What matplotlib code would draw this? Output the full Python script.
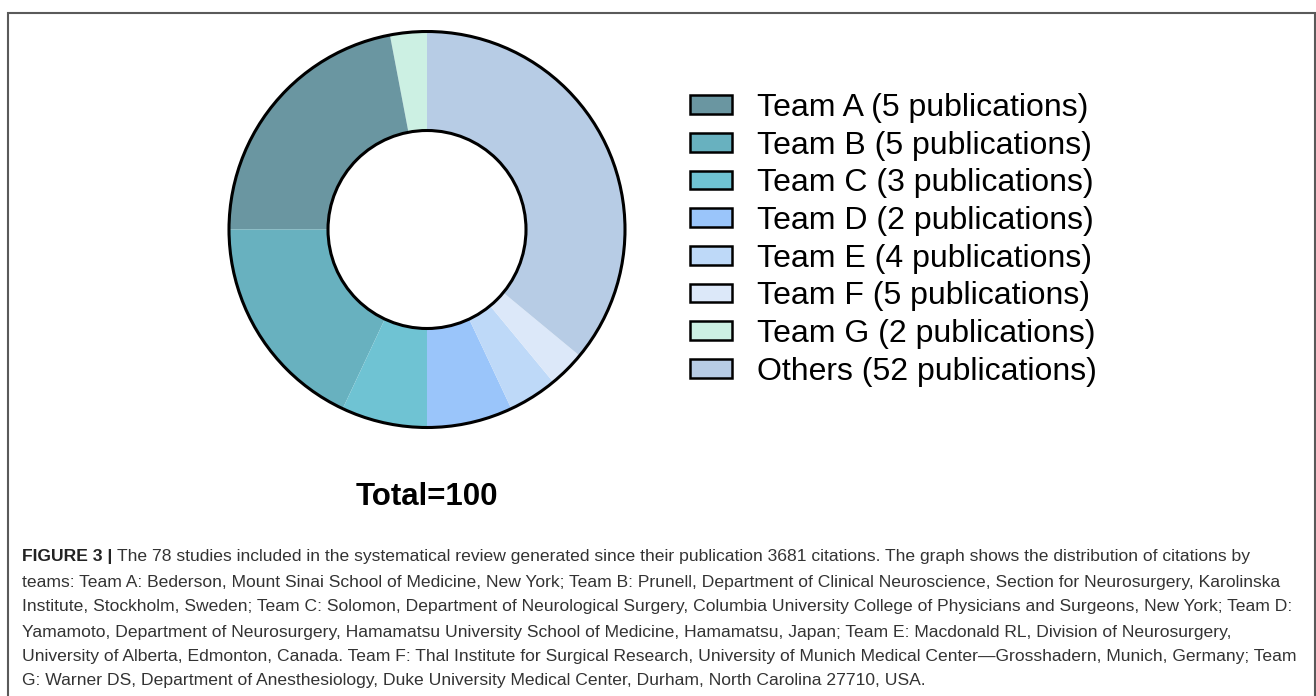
import matplotlib.pyplot as plt
from matplotlib.patches import Circle, Rectangle, Patch

plt.rcParams['font.family'] = ['Liberation Sans', 'DejaVu Sans']

# Share of citations per team (percent of the ring), legend order
teams = ['Team A', 'Team B', 'Team C', 'Team D', 'Team E', 'Team F', 'Team G', 'Others']
publications = [5, 5, 3, 2, 4, 5, 2, 52]
citation_share = [22, 18, 7, 7, 4, 3, 3, 36]
colors = ['#6A96A1', '#68B1BF', '#6FC3D3', '#9AC5FA', '#BED9F8', '#DCE8F9', '#CCF0E3', '#B7CCE5']

caption_lines = [
    "The 78 studies included in the systematical review generated since their publication 3681 citations. The graph shows the distribution of citations by",
    "teams: Team A: Bederson, Mount Sinai School of Medicine, New York; Team B: Prunell, Department of Clinical Neuroscience, Section for Neurosurgery, Karolinska",
    "Institute, Stockholm, Sweden; Team C: Solomon, Department of Neurological Surgery, Columbia University College of Physicians and Surgeons, New York; Team D:",
    "Yamamoto, Department of Neurosurgery, Hamamatsu University School of Medicine, Hamamatsu, Japan; Team E: Macdonald RL, Division of Neurosurgery,",
    "University of Alberta, Edmonton, Canada. Team F: Thal Institute for Surgical Research, University of Munich Medical Center\u2014Grosshadern, Munich, Germany; Team",
    "G: Warner DS, Department of Anesthesiology, Duke University Medical Center, Durham, North Carolina 27710, USA.",
]

W, H = 1316, 696
fig = plt.figure(figsize=(W / 100, H / 100), dpi=100)

# ring drawn counter-clockwise from 12 o'clock: G, A, B, ..., F, Others
ring_order = [6, 0, 1, 2, 3, 4, 5, 7]
cx, cy, r = 427, 229.5, 198
ax = fig.add_axes([(cx - 200) / W, (H - cy - 200) / H, 400 / W, 400 / H])
ax.pie([citation_share[i] for i in ring_order],
       colors=[colors[i] for i in ring_order],
       startangle=90, counterclock=True, radius=1,
       wedgeprops=dict(width=0.5, linewidth=0))
ax.add_patch(Circle((0, 0), 1, fill=False, edgecolor='black', lw=2.2))
ax.add_patch(Circle((0, 0), 0.5, fill=False, edgecolor='black', lw=2.2))
lim = 200 / r
ax.set_xlim(-lim, lim)
ax.set_ylim(-lim, lim)
ax.set_aspect('equal')
ax.axis('off')

handles = [Patch(facecolor=c, edgecolor='black', linewidth=1.8) for c in colors]
labels = [f'{t} ({n} publications)' for t, n in zip(teams, publications)]
fig.legend(handles, labels, loc='upper left', bbox_to_anchor=(690 / W, 1 - 93 / H),
           frameon=False, fontsize=23, borderpad=0, borderaxespad=0,
           handlelength=1.32, handleheight=0.53, handletextpad=0.78, labelspacing=0.24)

fig.text(cx / W, 1 - 497 / H, 'Total=100', ha='center', va='center',
         fontsize=22.5, fontweight='bold')

# caption block with frame
fig.add_artist(Rectangle((8 / W, -0.05), (1314.5 - 8) / W, 1.05 - 13 / H,
                         transform=fig.transFigure, fill=False,
                         edgecolor='#5a5a5a', lw=1.5))

renderer = fig.canvas.get_renderer()
cap_y = [557, 582, 607, 632, 656, 681]
cap_size = 12.6
x0 = 22 / W
head = fig.text(x0, 1 - cap_y[0] / H, 'FIGURE 3 | ', fontsize=cap_size,
                fontweight='bold', color='#222222', va='center')
bb = head.get_window_extent(renderer)
fig.text(bb.x1 / W, 1 - cap_y[0] / H, caption_lines[0], fontsize=cap_size,
         color='#333333', va='center')
for y, line in zip(cap_y[1:], caption_lines[1:]):
    fig.text(x0, 1 - y / H, line, fontsize=cap_size, color='#333333', va='center')

fig.savefig('out.png', dpi=100)
